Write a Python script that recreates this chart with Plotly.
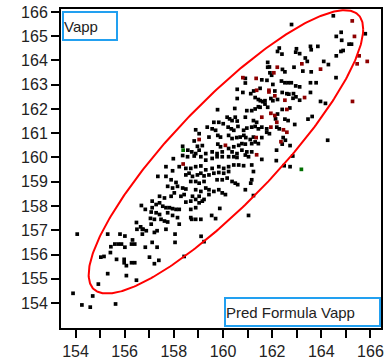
import numpy as np
import plotly.graph_objects as go

# ---- data (Pred Formula Vapp on x, Vapp on y) ----
black_x = [
164.49,162.79,164.81,164.61,165.79,164.83,
165.23,165.13,164.89,164.80,162.99,162.96,163.12,162.29,162.22,162.40,163.56,163.59,163.86,163.35,163.43,164.61,
161.82,161.82,161.89,162.89,162.42,162.52,164.10,164.29,163.25,163.59,161.91,161.98,161.58,161.79,160.91,164.60,
162.03,162.38,162.52,162.65,162.78,162.96,163.12,163.56,163.79,160.91,160.58,160.81,161.13,161.25,161.51,162.11,162.41,162.60,162.68,162.87,163.56,163.12,161.95,
160.58,161.31,161.44,161.52,161.62,161.71,162.03,162.22,162.85,162.97,163.97,164.17,161.71,161.82,161.44,160.97,161.17,161.31,161.51,159.78,160.48,162.22,162.41,162.72,
160.17,160.27,160.37,160.50,160.58,160.91,161.24,161.37,162.14,162.52,162.65,163.46,163.63,159.63,159.83,160.01,159.36,159.56,159.70,158.89,159.03,
160.21,160.34,160.44,160.61,160.84,160.97,161.17,161.31,161.44,161.58,161.78,162.19,162.29,162.92,
159.43,159.79,159.90,160.23,160.37,160.56,160.70,160.85,160.93,161.11,161.24,161.58,161.78,161.89,162.45,162.54,162.41,162.73,164.26,
158.83,158.96,159.16,158.36,158.57,158.73,158.89,159.79,159.90,160.23,160.44,160.64,160.77,160.91,161.17,161.31,161.44,
159.03,159.30,159.56,159.76,159.97,160.37,160.57,160.77,160.97,161.17,
157.98,158.36,158.56,158.83,159.10,159.30,159.56,159.76,159.97,160.23,160.44,160.57,160.91,161.04,161.58,162.18,162.84,
157.68,157.95,158.22,158.49,158.69,158.89,159.10,159.30,159.56,159.83,160.03,160.23,160.44,160.64,160.84,161.17,162.17,162.49,162.73,161.24,
157.35,157.68,157.89,158.09,158.49,158.62,158.76,158.96,159.10,159.23,159.43,159.63,159.83,160.03,160.23,
158.69,158.89,159.03,159.23,159.76,159.97,160.17,160.37,160.50,160.60,161.17,161.13,
157.75,157.95,158.15,158.36,158.49,158.89,159.10,159.30,159.43,159.63,159.83,159.97,160.10,160.91,
157.42,157.62,157.89,158.02,158.29,158.42,158.76,159.03,159.23,159.43,
157.12,157.28,157.42,157.55,157.68,157.82,157.95,158.09,158.22,157.12,157.08,
158.49,158.69,158.89,159.03,159.16,156.68,156.84,158.69,158.89,159.87,161.24,
157.28,157.42,157.75,157.95,158.15,158.69,158.89,159.54,159.70,
156.48,156.65,156.75,156.88,157.21,157.48,157.62,157.75,158.22,158.73,159.10,161.04,157.68,
155.31,155.81,156.01,155.60,155.74,155.87,156.01,155.44,156.28,156.41,156.32,156.50,156.72,156.72,157.08,157.05,
156.84,157.21,157.32,157.12,157.32,158.05,158.05,159.11,159.23,
157.01,157.21,157.39,155.03,155.16,155.42,155.67,155.98,155.98,156.07,156.28,156.41,156.48,158.42,
155.31,156.07,154.93,154.70,153.90,154.26,154.60,155.63,154.07,
]
black_y = [
165.84,165.48,165.16,164.99,165.10,164.83,
164.67,164.67,164.41,164.37,164.48,164.34,164.28,164.51,164.37,164.26,164.58,164.44,164.58,164.10,163.96,164.19,
163.92,163.72,163.73,163.72,163.63,163.53,163.96,163.83,163.56,163.53,163.49,163.39,163.20,163.18,163.26,163.29,
163.01,163.15,163.08,163.08,163.08,162.95,162.91,163.08,163.08,163.07,162.81,162.68,162.63,162.74,162.85,162.74,162.68,162.63,162.61,162.63,162.68,162.36,162.43,
162.43,162.47,162.39,162.34,162.30,162.34,162.34,162.39,162.44,162.50,162.31,162.23,162.20,162.07,162.09,161.93,161.93,162.00,162.07,161.97,162.02,161.79,161.98,162.04,
161.66,161.59,161.52,161.66,161.50,161.66,161.52,161.45,161.59,161.58,161.52,161.58,161.69,161.45,161.45,161.39,161.25,161.18,161.12,161.14,160.98,
161.25,161.18,161.12,161.28,161.12,161.21,161.25,161.28,161.18,161.25,161.18,161.25,161.18,161.36,
160.84,160.91,160.84,160.91,160.78,160.82,160.84,160.91,160.82,160.74,160.84,160.82,161.04,160.98,160.82,160.71,160.55,160.49,160.71,
160.68,160.46,160.49,160.46,160.30,160.23,160.16,160.55,160.44,160.37,160.44,160.50,160.57,160.55,160.57,160.64,160.57,
160.30,160.16,160.23,160.16,160.23,160.23,160.16,160.30,160.23,160.23,
159.95,160.08,160.03,160.06,160.03,159.89,159.96,160.03,160.03,160.03,160.03,160.00,160.10,160.03,159.92,160.30,160.06,
159.62,159.45,159.62,159.55,159.55,159.62,159.65,159.49,159.55,159.62,159.55,159.62,159.69,159.69,159.66,159.69,159.87,159.66,159.62,159.42,
159.22,159.22,159.08,158.97,159.28,159.35,159.22,159.28,159.35,159.24,159.28,159.35,159.38,159.35,159.42,
159.01,159.01,158.94,159.01,159.08,159.08,159.15,159.01,158.94,158.88,159.08,158.94,
158.81,158.74,158.81,158.74,158.70,158.67,158.60,158.74,158.67,158.60,158.67,158.54,158.47,158.67,
158.40,158.33,158.40,158.54,158.40,158.47,158.40,158.40,158.27,158.47,
158.20,158.06,158.13,157.99,157.93,157.93,157.89,157.86,157.86,157.93,157.75,
158.16,158.20,158.27,158.13,158.20,158.02,157.86,157.86,157.93,157.90,158.43,
157.72,157.65,157.72,157.61,157.52,157.52,157.45,157.61,157.48,
157.32,157.14,157.04,156.98,157.45,157.45,157.38,157.34,157.25,157.45,157.45,157.61,157.04,
156.84,156.84,156.76,156.43,156.43,156.43,156.30,156.32,156.43,156.43,156.60,157.04,157.04,156.84,157.25,157.49,
156.30,156.91,156.98,156.50,156.30,156.84,156.50,156.75,156.53,
155.89,155.62,155.76,155.89,155.92,156.08,155.80,155.80,155.66,155.54,155.66,155.66,154.94,155.92,
155.21,155.13,154.78,154.29,154.40,153.92,153.83,153.96,156.84,
]
red_x = [165.26,165.35,165.54,165.46,165.87,162.21,163.21,163.97,162.07,161.35,160.81,161.37,161.87,161.87,
         163.32,162.11,162.52,165.27,161.95,162.60,161.58,162.11,162.19,161.95,162.46,162.60,159.03,161.35,
         162.36,160.10,161.37,158.38]
red_y = [165.63,164.99,164.19,163.86,163.96,163.72,163.86,163.64,163.49,163.26,163.29,162.77,162.77,162.70,
         162.47,162.54,162.36,162.31,161.82,161.98,161.66,161.73,161.45,161.25,161.14,161.04,160.74,160.82,
         160.65,160.50,160.11,159.73]
green_x = [158.38, 163.19]
green_y = [160.30, 159.51]

# density ellipse statistics
mean_x, mean_y = 160.12, 160.23
sd_x, sd_y = 2.282, 2.386
corr = 0.866
level_scale = np.sqrt(5.991)  # 95% bivariate normal

x_label = "Pred Formula Vapp"
y_label = "Vapp"
x_ticks = [154, 156, 158, 160, 162, 164, 166]
y_ticks = list(range(154, 167))

t = np.linspace(0, 2 * np.pi, 361)
ex = mean_x + level_scale * sd_x * np.cos(t)
ey = mean_y + level_scale * sd_y * (corr * np.cos(t) + np.sqrt(1 - corr ** 2) * np.sin(t))

fig = go.Figure()
mk = dict(symbol="square", size=3.7, line=dict(width=0))
fig.add_trace(go.Scatter(x=black_x, y=black_y, mode="markers", marker=dict(color="#000000", **mk)))
fig.add_trace(go.Scatter(x=red_x, y=red_y, mode="markers", marker=dict(color="#8E0000", **mk)))
fig.add_trace(go.Scatter(x=green_x, y=green_y, mode="markers", marker=dict(color="#006E00", **mk)))
fig.add_trace(go.Scatter(x=ex, y=ey, mode="lines", line=dict(color="#FF0000", width=2)))

axis_common = dict(showline=True, linecolor="black", linewidth=2, mirror=True,
                   ticks="outside", ticklen=8, tickwidth=2, tickcolor="black",
                   showgrid=False, zeroline=False,
                   tickfont=dict(family="Liberation Sans, Arial", size=16, color="#222222"))
fig.update_xaxes(range=[153.41, 166.43], tickvals=x_ticks,
                 minor=dict(dtick=1, tick0=154, ticks="outside", ticklen=8, tickwidth=2, tickcolor="black"),
                 **axis_common)
fig.update_yaxes(range=[152.97, 166.12], tickvals=y_ticks, **axis_common)

box = dict(xref="paper", yref="paper", showarrow=False, align="left",
           bordercolor="#22A0F0", borderwidth=2, borderpad=0, bgcolor="white",
           font=dict(family="Liberation Sans, Arial", size=15, color="#222222"))
fig.add_annotation(text=y_label, x=0.004, y=0.993, xanchor="left", yanchor="top",
                   width=52, height=26, **box)
fig.add_annotation(text=x_label, x=1.0, y=0.002, xanchor="right", yanchor="bottom",
                   width=153, height=26, **box)

fig.update_layout(width=388, height=364, showlegend=False,
                  margin=dict(l=61, r=4, t=7, b=34),
                  plot_bgcolor="white", paper_bgcolor="white")
fig.write_html("out.html", config={"displayModeBar": False, "displaylogo": False},
               post_script="document.body.style.margin='0px';")
